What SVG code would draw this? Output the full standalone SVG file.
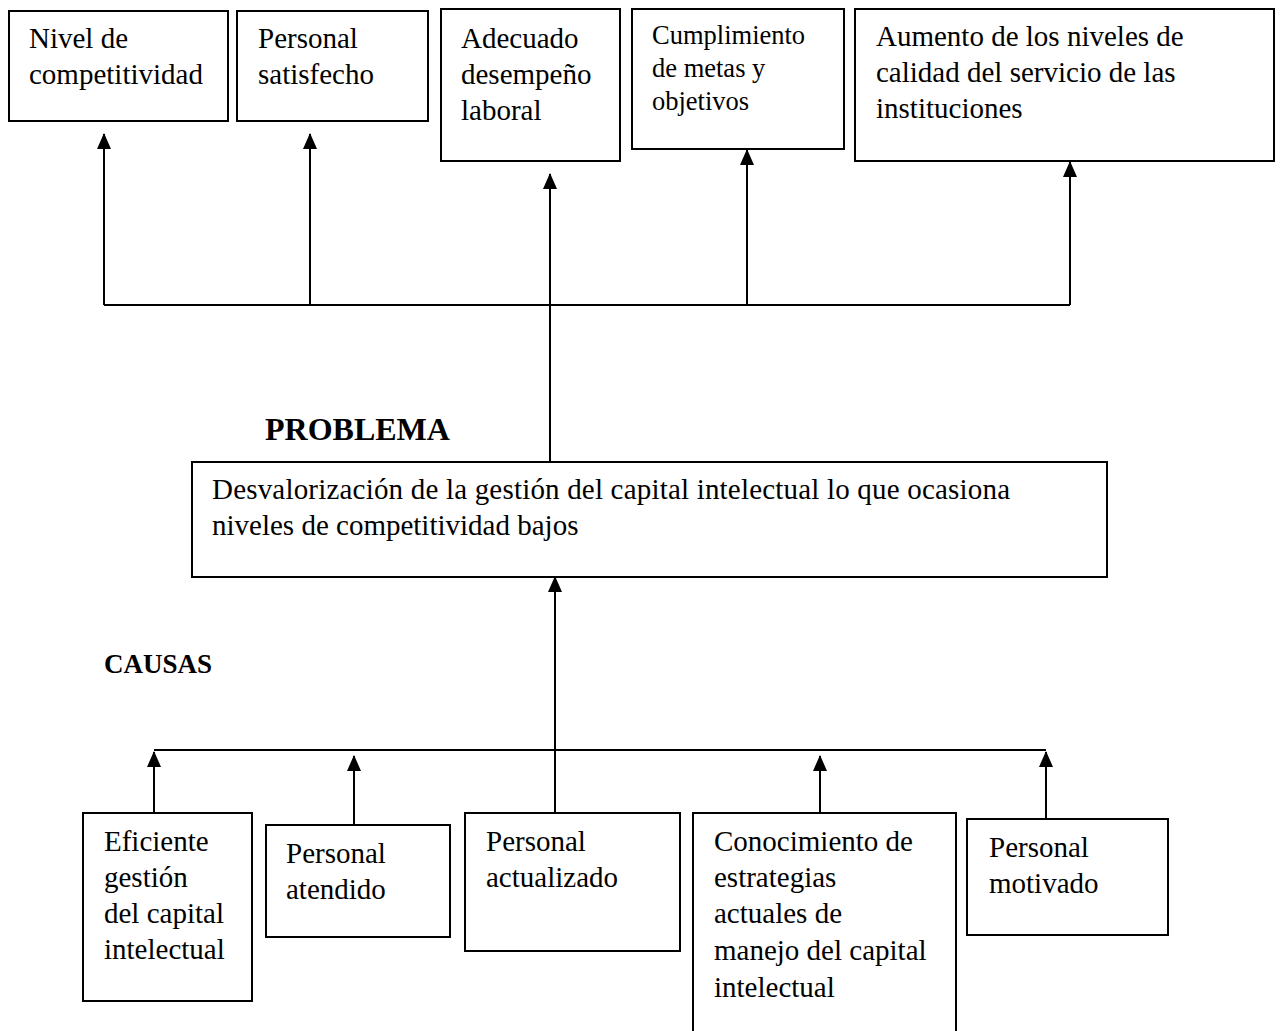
<svg xmlns="http://www.w3.org/2000/svg" width="1281" height="1031" viewBox="0 0 1281 1031">
<style>
.box{fill:#fff;stroke:#000;stroke-width:2}
.t{font-family:"Liberation Serif","Times New Roman",serif;font-size:29px;fill:#000}
.s{font-size:26.5px}
.h{font-family:"Liberation Serif","Times New Roman",serif;font-weight:bold;fill:#000}
.ln{fill:none;stroke:#000;stroke-width:2}
</style>
<defs>
<marker id="ah" viewBox="0 0 16 14" refX="15" refY="7" markerWidth="16" markerHeight="14" markerUnits="userSpaceOnUse" orient="auto">
<path d="M0,0 L16,7 L0,14 Z" fill="#000"/>
</marker>
</defs>
<rect width="1281" height="1031" fill="#fff"/>
<g id="connectors">
<polyline class="ln" points="104,305 1070,305"/>
<line class="ln" x1="104" y1="305" x2="104" y2="134" marker-end="url(#ah)"/>
<line class="ln" x1="310" y1="305" x2="310" y2="134" marker-end="url(#ah)"/>
<line class="ln" x1="550" y1="462" x2="550" y2="174" marker-end="url(#ah)"/>
<line class="ln" x1="747" y1="305" x2="747" y2="150" marker-end="url(#ah)"/>
<line class="ln" x1="1070" y1="305" x2="1070" y2="162" marker-end="url(#ah)"/>
<line class="ln" x1="555" y1="813" x2="555" y2="577" marker-end="url(#ah)"/>
<polyline class="ln" points="154,750 1046,750"/>
<line class="ln" x1="154" y1="813" x2="154" y2="752" marker-end="url(#ah)"/>
<line class="ln" x1="354" y1="825" x2="354" y2="756" marker-end="url(#ah)"/>
<line class="ln" x1="820" y1="813" x2="820" y2="756" marker-end="url(#ah)"/>
<line class="ln" x1="1046" y1="819" x2="1046" y2="752" marker-end="url(#ah)"/>
</g>
<g id="e1"><rect class="box" x="9" y="11" width="219" height="110"/>
<text class="t" x="29" y="48">Nivel de</text><text class="t" x="29" y="84">competitividad</text></g>
<g id="e2"><rect class="box" x="237" y="11" width="191" height="110"/>
<text class="t" x="258" y="48">Personal</text><text class="t" x="258" y="84">satisfecho</text></g>
<g id="e3"><rect class="box" x="441" y="9" width="179" height="152"/>
<text class="t" x="461" y="48">Adecuado</text><text class="t" x="461" y="84">desempeño</text><text class="t" x="461" y="120">laboral</text></g>
<g id="e4"><rect class="box" x="632" y="9" width="212" height="140"/>
<text class="t s" x="652" y="44">Cumplimiento</text><text class="t s" x="652" y="77">de metas y</text><text class="t s" x="652" y="110">objetivos</text></g>
<g id="e5"><rect class="box" x="855" y="9" width="419" height="152"/>
<text class="t" x="876" y="46">Aumento de los niveles de</text><text class="t" x="876" y="82">calidad del servicio de las</text><text class="t" x="876" y="118">instituciones</text></g>
<g id="lbl-problema"><text class="h" x="265" y="440" font-size="32">PROBLEMA</text></g>
<g id="problema"><rect class="box" x="192" y="462" width="915" height="115"/>
<text class="t" x="212" y="499" textLength="798">Desvalorización de la gestión del capital intelectual lo que ocasiona</text>
<text class="t" x="212" y="535">niveles de competitividad bajos</text></g>
<g id="lbl-causas"><text class="h" x="104" y="673" font-size="27">CAUSAS</text></g>
<g id="c1"><rect class="box" x="83" y="813" width="169" height="188"/>
<text class="t" x="104" y="851">Eficiente</text><text class="t" x="104" y="887">gestión</text><text class="t" x="104" y="923">del capital</text><text class="t" x="104" y="959">intelectual</text></g>
<g id="c2"><rect class="box" x="266" y="825" width="184" height="112"/>
<text class="t" x="286" y="863">Personal</text><text class="t" x="286" y="899">atendido</text></g>
<g id="c3"><rect class="box" x="465" y="813" width="215" height="138"/>
<text class="t" x="486" y="851">Personal</text><text class="t" x="486" y="887">actualizado</text></g>
<g id="c4"><rect class="box" x="693" y="813" width="263" height="230"/>
<text class="t" x="714" y="851">Conocimiento de</text><text class="t" x="714" y="887">estrategias</text><text class="t" x="714" y="923">actuales de</text><text class="t" x="714" y="960">manejo del capital</text><text class="t" x="714" y="997">intelectual</text></g>
<g id="c5"><rect class="box" x="967" y="819" width="201" height="116"/>
<text class="t" x="989" y="857">Personal</text><text class="t" x="989" y="893">motivado</text></g>
</svg>
